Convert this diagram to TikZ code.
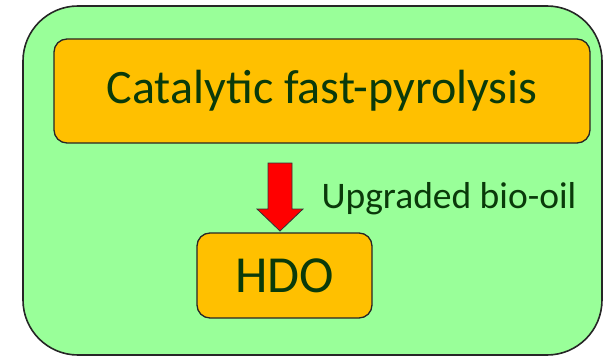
\documentclass[tikz,border=0pt]{standalone}
\usepackage{fontspec}
\setmainfont{Carlito}
\definecolor{bggreen}{HTML}{99FF99}
\definecolor{boxorange}{HTML}{FFC000}
\definecolor{txtgreen}{HTML}{0A3A0A}
\definecolor{arrowred}{HTML}{FF0000}
\tikzset{
  outerbox/.style={draw=black!85, line width=1.6pt, fill=bggreen, rounded corners=55pt},
  procbox/.style={draw=black!85, line width=1.3pt, fill=boxorange, rounded corners=13pt, text=txtgreen},
  blockarrow/.style={draw=black!80, line width=0.8pt, fill=arrowred},
}
\begin{document}
\begin{tikzpicture}[x=1pt,y=1pt]
\useasboundingbox (0,0) rectangle (603,357);
\draw[outerbox] (23,2) rectangle (602,351);
\node[procbox, minimum width=536pt, minimum height=104pt, font=\fontsize{48}{52}\selectfont] (cfp) at (322,266) {Catalytic fast-pyrolysis};
\node[procbox, minimum width=175pt, minimum height=85pt, font=\fontsize{52}{56}\selectfont] (hdo) at (284.5,81.5) {HDO};
\draw[blockarrow] (268,194) -- (292,194) -- (292,148) -- (303,148) -- (280,126) -- (257,148) -- (268,148) -- cycle;
\node[text=txtgreen, font=\fontsize{37.5}{42}\selectfont, anchor=west] (lbl) at (318,158) {Upgraded bio-oil};
\end{tikzpicture}
\end{document}
